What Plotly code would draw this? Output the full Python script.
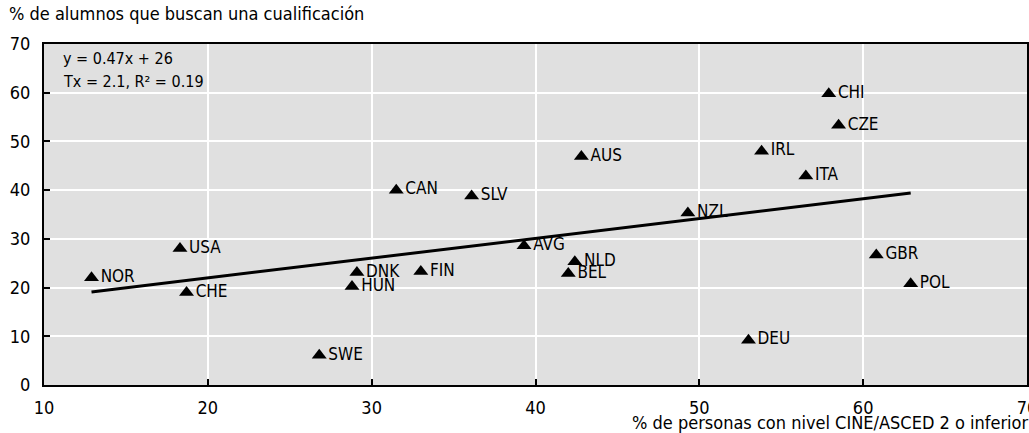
import plotly.graph_objects as go

countries = ["NOR", "USA", "CHE", "SWE", "HUN", "DNK", "FIN", "CAN", "SLV", "AVG",
             "AUS", "NLD", "BEL", "NZL", "IRL", "DEU", "ITA", "CHI", "CZE", "GBR", "POL"]
x_vals = [12.9, 18.3, 18.7, 26.8, 28.8, 29.1, 33.0, 31.5, 36.1, 39.3,
          42.8, 42.4, 42.0, 49.3, 53.8, 53.0, 56.5, 57.9, 58.5, 60.8, 62.9]
y_vals = [22.0, 28.0, 19.0, 6.1, 20.2, 23.1, 23.3, 40.0, 38.8, 28.6,
          46.9, 25.3, 22.9, 35.3, 48.0, 9.2, 42.9, 59.8, 53.3, 26.7, 20.8]

trend_x = [12.9, 62.9]
trend_y = [19.1, 39.4]

x_ticks = [10, 20, 30, 40, 50, 60, 70]
y_ticks = [0, 10, 20, 30, 40, 50, 60, 70]

eq_line1 = "y = 0.47x + 26"
eq_line2 = "Tx = 2.1, R² = 0.19"
y_title = "% de alumnos que buscan una cualificación"
x_title = "% de personas con nivel CINE/ASCED 2 o inferior"

FONT = "DejaVu Sans Condensed, Liberation Sans Narrow, sans-serif"
FS = 17

fig = go.Figure()
fig.add_trace(go.Scatter(
    x=trend_x, y=trend_y, mode="lines",
    line=dict(color="black", width=3), hoverinfo="skip", showlegend=False))
fig.add_trace(go.Scatter(
    x=x_vals, y=y_vals, mode="markers+text", text=countries,
    textposition="middle right",
    textfont=dict(family=FONT, size=FS, color="black"),
    marker=dict(symbol="triangle-up", size=13, color="black"),
    showlegend=False))

axis_common = dict(
    showgrid=True, gridcolor="white", gridwidth=1.5,
    zeroline=False, showline=True, linecolor="black", linewidth=2,
    mirror=True, ticks="inside", ticklen=6, tickcolor="black", tickwidth=1.5,
    tickfont=dict(family=FONT, size=18, color="black"), automargin=False,
)

fig.update_xaxes(range=[10, 70], tickvals=x_ticks, ticklabelstandoff=5,
                 ticklabeloverflow="allow", **axis_common)
fig.update_yaxes(range=[0, 70], tickvals=y_ticks, ticklabelstandoff=8, **axis_common)

fig.add_annotation(xref="paper", yref="paper", x=0, y=1, xanchor="left", yanchor="bottom",
                   xshift=-37, yshift=18, text=y_title, showarrow=False,
                   font=dict(family=FONT, size=18, color="black"))
fig.add_annotation(xref="paper", yref="paper", x=1, y=0, xanchor="right", yanchor="middle",
                   xshift=3, yshift=-37, text=x_title, showarrow=False,
                   font=dict(family=FONT, size=18, color="black"))
fig.add_annotation(xref="paper", yref="paper", x=0, y=1, xanchor="left", yanchor="middle",
                   xshift=17, yshift=-14, text=eq_line1, showarrow=False,
                   font=dict(family=FONT, size=16, color="black"))
fig.add_annotation(xref="paper", yref="paper", x=0, y=1, xanchor="left", yanchor="middle",
                   xshift=17, yshift=-37, text=eq_line2, showarrow=False,
                   font=dict(family=FONT, size=16, color="black"))

fig.update_layout(
    width=1029, height=433,
    margin=dict(l=44, r=2, t=44, b=48),
    plot_bgcolor="#e0e0e0", paper_bgcolor="white",
    font=dict(family=FONT, size=FS, color="black"),
)

fig.write_html("out.html", config={"displayModeBar": False},
               post_script="document.body.style.margin='0';")
